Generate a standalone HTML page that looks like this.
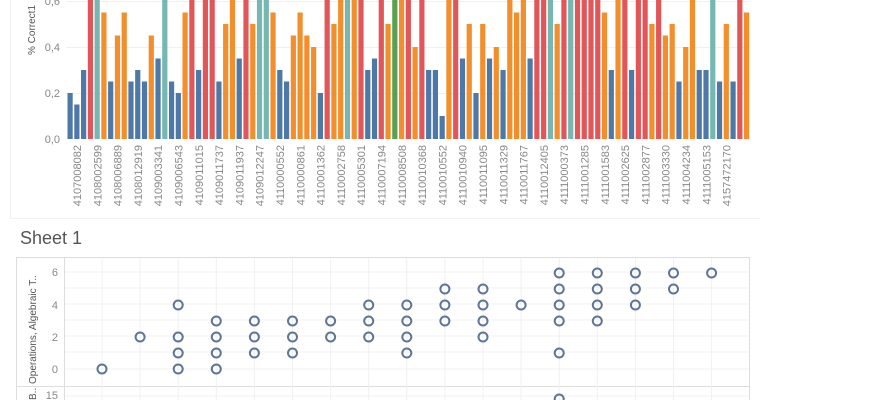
<!DOCTYPE html>
<html><head><meta charset="utf-8"><style>
html,body{margin:0;padding:0;background:#fff;width:870px;height:400px;overflow:hidden}
svg{display:block;font-family:"Liberation Sans",sans-serif}
</style></head><body>
<svg id="s" width="870" height="400" viewBox="0 0 870 400">
<line x1="10.5" y1="0" x2="10.5" y2="218" stroke="#eee"/>
<line x1="10" y1="218.5" x2="760" y2="218.5" stroke="#f2f2f2"/>
<g stroke="#f0f0f0"><line x1="66" y1="93.5" x2="750" y2="93.5"/><line x1="66" y1="47.5" x2="750" y2="47.5"/><line x1="66" y1="1.5" x2="750" y2="1.5"/></g>
<g id="bars"></g>
<g font-size="11" fill="#888" text-anchor="end">
<text x="60" y="143">0,0</text><text x="60" y="97">0,2</text><text x="60" y="51">0,4</text><text x="60" y="5">0,6</text>
</g>
<text transform="translate(35,30) rotate(-90)" font-size="10" fill="#555" text-anchor="middle">% Correct1</text>
<g id="lbl" font-size="11" fill="#888" text-anchor="end">
<text transform="translate(81,145) rotate(-90)">4107008082</text>
<text transform="translate(101.3,145) rotate(-90)">4108002599</text>
<text transform="translate(121.6,145) rotate(-90)">4108006889</text>
<text transform="translate(141.9,145) rotate(-90)">4108012919</text>
<text transform="translate(162.2,145) rotate(-90)">4109003341</text>
<text transform="translate(182.5,145) rotate(-90)">4109006543</text>
<text transform="translate(202.8,145) rotate(-90)">4109011015</text>
<text transform="translate(223.1,145) rotate(-90)">4109011737</text>
<text transform="translate(243.4,145) rotate(-90)">4109011937</text>
<text transform="translate(263.7,145) rotate(-90)">4109012247</text>
<text transform="translate(284,145) rotate(-90)">4110000552</text>
<text transform="translate(304.3,145) rotate(-90)">4110000861</text>
<text transform="translate(324.6,145) rotate(-90)">4110001362</text>
<text transform="translate(344.9,145) rotate(-90)">4110002758</text>
<text transform="translate(365.2,145) rotate(-90)">4110005301</text>
<text transform="translate(385.5,145) rotate(-90)">4110007194</text>
<text transform="translate(405.8,145) rotate(-90)">4110008508</text>
<text transform="translate(426.1,145) rotate(-90)">4110010368</text>
<text transform="translate(446.4,145) rotate(-90)">4110010552</text>
<text transform="translate(466.7,145) rotate(-90)">4110010940</text>
<text transform="translate(487,145) rotate(-90)">4110011095</text>
<text transform="translate(507.3,145) rotate(-90)">4110011329</text>
<text transform="translate(527.6,145) rotate(-90)">4110011767</text>
<text transform="translate(547.9,145) rotate(-90)">4110012405</text>
<text transform="translate(568.2,145) rotate(-90)">4111000373</text>
<text transform="translate(588.5,145) rotate(-90)">4111001285</text>
<text transform="translate(608.8,145) rotate(-90)">4111001583</text>
<text transform="translate(629.1,145) rotate(-90)">4111002625</text>
<text transform="translate(649.4,145) rotate(-90)">4111002877</text>
<text transform="translate(669.7,145) rotate(-90)">4111003330</text>
<text transform="translate(690,145) rotate(-90)">4111004234</text>
<text transform="translate(710.3,145) rotate(-90)">4111005153</text>
<text transform="translate(730.6,145) rotate(-90)">4157472170</text>
</g>
<text x="20" y="244" font-size="18" fill="#555">Sheet 1</text>
<rect x="16.5" y="257.5" width="733" height="150" fill="none" stroke="#ddd"/>
<line x1="64.5" y1="257" x2="64.5" y2="400" stroke="#ddd"/>
<line x1="16" y1="386.5" x2="750" y2="386.5" stroke="#ddd"/>
<g id="grid" stroke="#f0f0f0"></g>
<g font-size="11" fill="#888" text-anchor="end">
<text x="58" y="276">6</text><text x="58" y="309">4</text><text x="58" y="341">2</text><text x="58" y="373">0</text><text x="58" y="399">15</text>
</g>
<text transform="translate(36,384) rotate(-90)" font-size="10" fill="#555">Operations, Algebraic T..</text>
<text transform="translate(36,400) rotate(-90)" font-size="10" fill="#555">B..</text>
<g id="pts" fill="none" stroke="#5f7595" stroke-width="2"></g>
</svg>
<script>
var C={b:"#4e79a7",r:"#e15759",t:"#76b7b2",o:"#f28e2b",g:"#59a14f"};
var d="b.2 b.15 b.3 rT tT o.55 b.25 o.45 o.55 b.25 b.3 b.25 o.45 b.35 tT b.25 b.2 o.55 rT b.3 rT rT b.25 o.5 oT b.35 rT o.5 tT tT o.55 b.3 b.25 o.45 o.55 o.45 o.4 b.2 rT o.5 oT tT oT rT b.3 b.35 rT o.5 gT oT rT o.4 rT b.3 b.3 b.1 oT rT b.35 o.5 b.2 o.5 b.35 o.4 b.3 oT o.55 oT b.35 rT rT tT o.5 rT tT rT rT rT rT o.55 b.3 oT rT b.3 rT rT o.5 rT o.45 o.5 b.25 o.4 oT b.3 b.3 tT b.25 o.5 b.25 rT o.55".split(" ");
var h="",ns="http://www.w3.org/2000/svg";
d.forEach(function(s,i){var c=C[s[0]],v=s.slice(1),x=67.5+i*6.765;var y=v=="T"?0:139-v*230;h+='<rect x="'+x.toFixed(2)+'" y="'+y+'" width="5.2" height="'+(139-y)+'" fill="'+c+'"/>';});
document.getElementById("bars").innerHTML=h;
var cols=[[0],[2],[4,2,1,0],[3,2,1,0],[3,2,1],[3,2,1],[3,2],[4,3,2],[4,3,2,1],[5,4,3],[5,4,3,2],[4],[6,5,4,3,1],[6,5,4,3],[6,5,4],[6,5],[6]];
var g="",p="";
cols.forEach(function(a,i){var x=102+i*38.1;g+='<line x1="'+x+'" y1="258" x2="'+x+'" y2="400"/>';a.forEach(function(v){p+='<circle cx="'+x+'" cy="'+(369-16*v)+'" r="4.5"/>';});});
[272,288,304,320,336,352,369,396].forEach(function(y){g+='<line x1="65" y1="'+y+'" x2="749" y2="'+y+'"/>';});
p+='<circle cx="559.2" cy="399" r="4.5"/>';
document.getElementById("grid").innerHTML=g;document.getElementById("pts").innerHTML=p;
</script>
</body></html>
